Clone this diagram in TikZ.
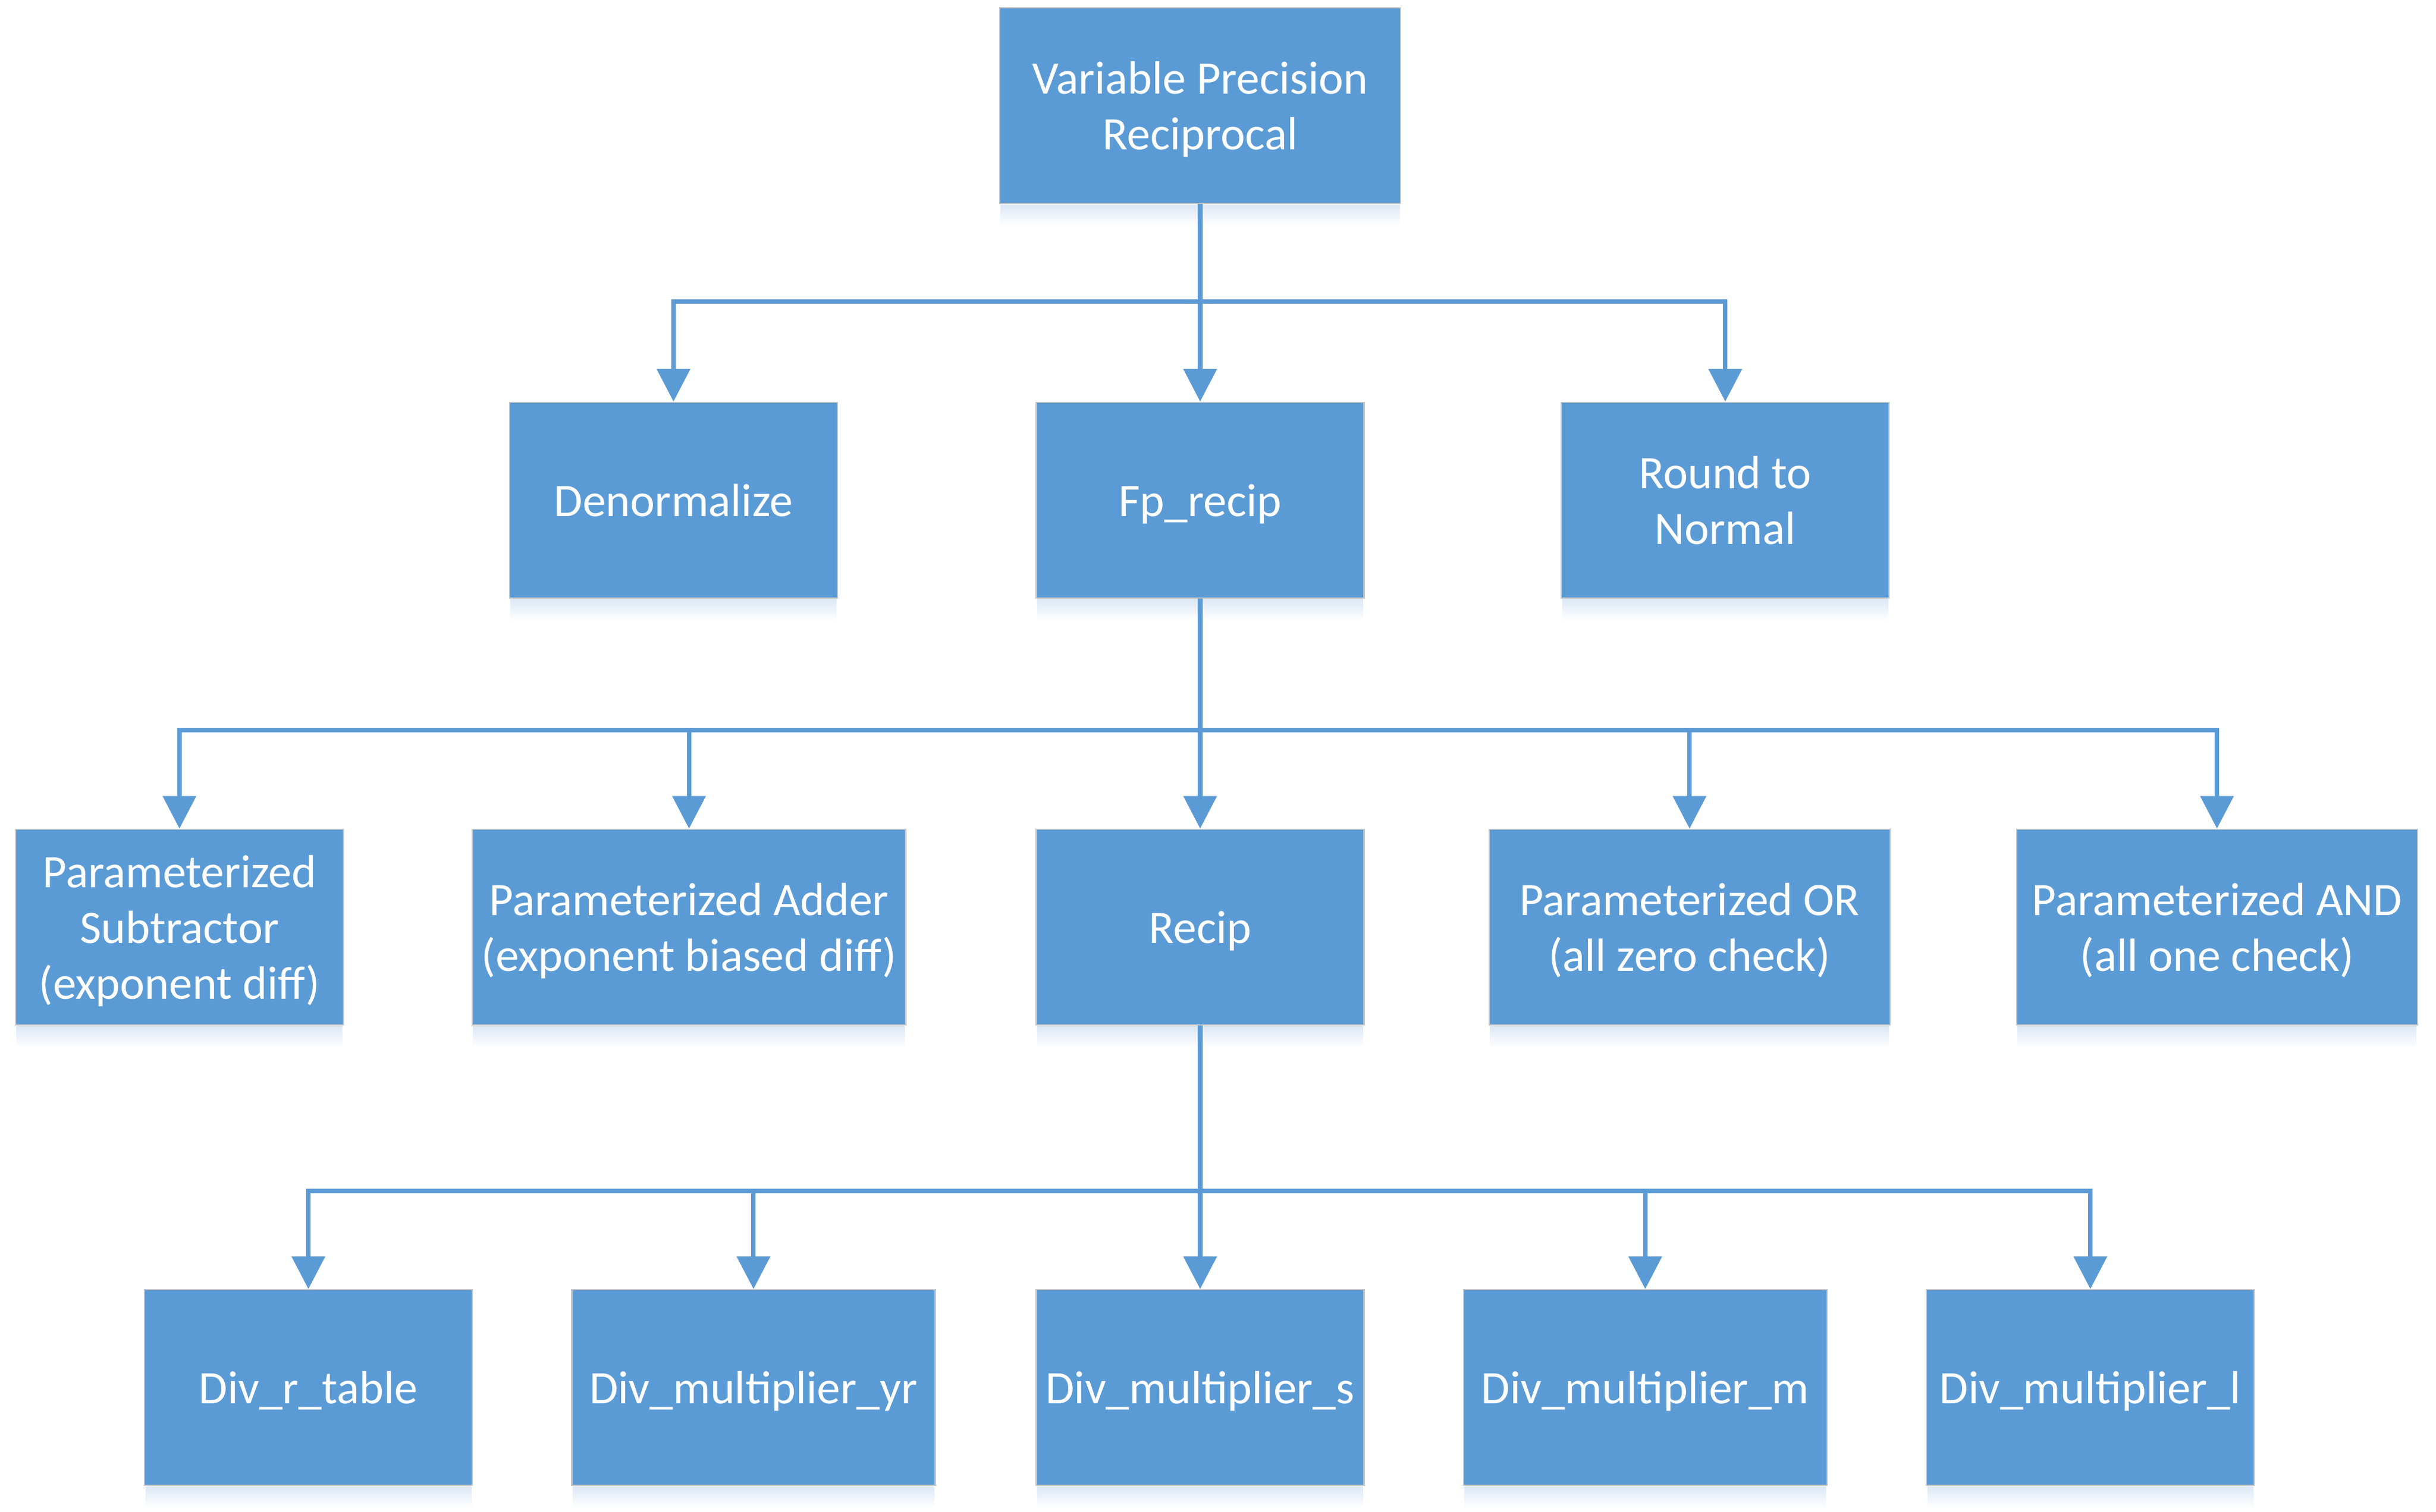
\documentclass[tikz,border=0pt]{standalone}
\usepackage{fontspec}
\setmainfont{Carlito}
\usetikzlibrary{arrows.meta}
\definecolor{boxblue}{HTML}{5B9BD5}
\definecolor{edgegray}{HTML}{C3C7CC}
\definecolor{shadowblue}{HTML}{DCE8F5}
\begin{document}
\begin{tikzpicture}[x=1pt,y=1pt,
  box/.style={rectangle, fill=boxblue, draw=edgegray, line width=0.8pt,
    text=white, align=center, inner sep=0pt, minimum height=126pt,
    font=\fontsize{30}{36}\selectfont, text depth=0pt},
  one/.style={box, text height=21pt},
  conn/.style={draw=boxblue, line width=2.9pt, line join=miter},
  arr/.style={conn, -{Triangle[length=21pt,width=21pt]}}]
\useasboundingbox[fill=white] (0,0) rectangle (1568,-973.66);

% row 1
\node[box, minimum width=258pt] (top) at (772.5,-68) {Variable Precision\\Reciprocal};
% row 2
\node[one, minimum width=211pt] (den) at (433.5,-322) {Denormalize};
\node[one, minimum width=211pt] (fp) at (772.5,-322) {Fp\_recip};
\node[box, minimum width=211pt] (rnd) at (1110.5,-322) {Round to\\Normal};
% row 3
\node[box, minimum width=211pt] (sub) at (115.5,-597) {Parameterized\\Subtractor\\(exponent diff)};
\node[box, minimum width=279pt] (add) at (443.5,-597) {Parameterized Adder\\(exponent biased diff)};
\node[one, minimum width=211pt] (rec) at (772.5,-597) {Recip};
\node[box, minimum width=258pt] (or) at (1087.5,-597) {Parameterized OR\\(all zero check)};
\node[box, minimum width=258pt] (and) at (1427,-597) {Parameterized AND\\(all one check)};
% row 4
\node[one, minimum width=211pt] (drt) at (198.5,-893.5) {Div\_r\_table};
\node[one, minimum width=234pt] (myr) at (485,-893.5) {Div\_multiplier\_yr};
\node[one, minimum width=211pt] (ms) at (772.5,-893.5) {Div\_multiplier\_s};
\node[one, minimum width=234pt] (mm) at (1059,-893.5) {Div\_multiplier\_m};
\node[one, minimum width=211pt] (ml) at (1345.5,-893.5) {Div\_multiplier\_l};

% soft shadows below boxes
\foreach \n in {top,den,fp,rnd,sub,add,rec,or,and,drt,myr,ms,mm,ml}{
  \shade[top color=shadowblue, bottom color=white]
    ([xshift=1pt,yshift=-0.4pt]\n.south west) rectangle ([xshift=-1pt,yshift=-14pt]\n.south east);
}

% bus coordinates
\coordinate (b1) at (772.5,-194);
\coordinate (b2) at (772.5,-470);
\coordinate (b3) at (772.5,-767);

% connectors level 1
\draw[arr] (top.south) -- (b1) -| (den.north);
\draw[arr] (top.south) -- (fp.north);
\draw[arr] (top.south) -- (b1) -| (rnd.north);
% connectors level 2
\draw[arr] (fp.south) -- (b2) -| (sub.north);
\draw[arr] (fp.south) -- (b2) -| (add.north);
\draw[arr] (fp.south) -- (rec.north);
\draw[arr] (fp.south) -- (b2) -| (or.north);
\draw[arr] (fp.south) -- (b2) -| (and.north);
% connectors level 3
\draw[arr] (rec.south) -- (b3) -| (drt.north);
\draw[arr] (rec.south) -- (b3) -| (myr.north);
\draw[arr] (rec.south) -- (ms.north);
\draw[arr] (rec.south) -- (b3) -| (mm.north);
\draw[arr] (rec.south) -- (b3) -| (ml.north);
\end{tikzpicture}
\end{document}
